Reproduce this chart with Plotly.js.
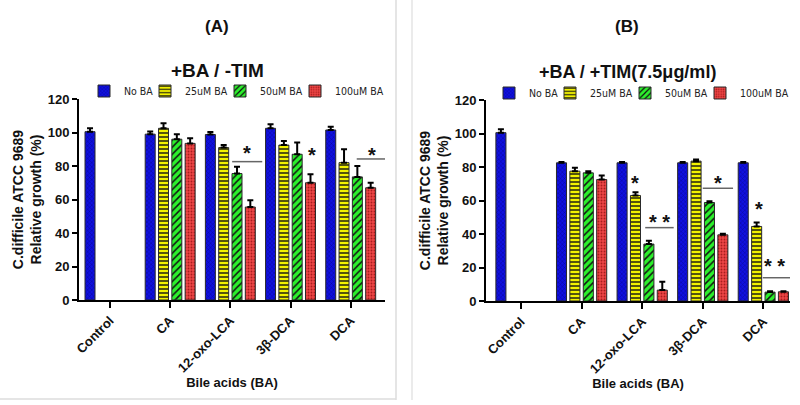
<!DOCTYPE html>
<html>
<head>
<meta charset="utf-8">
<script src="https://cdn.plot.ly/plotly-3.0.1.min.js"></script>
<style>html,body{margin:0;padding:0;background:#fff;}#chart{width:800px;height:405px;}</style>
</head>
<body>
<div id="chart"></div>
<script>
// ---- data ----
const categories = ["Control", "CA", "12-oxo-LCA", "3\u03b2-DCA", "DCA"];
const seriesNames = ["No BA", "25uM BA", "50uM BA", "100uM BA"];

// Panel A: +BA / -TIM
const aNoBA   = [100.5, 99.0, 98.8, 102.5, 101.5];
const a25     = [null, 102.5, 91.0, 92.5, 82.0];
const a50     = [null, 96.0, 75.5, 87.0, 73.5];
const a100    = [null, 93.5, 55.5, 70.0, 67.0];
const aNoBAErr = [2.0, 1.6, 1.5, 2.5, 2.0];
const a25Err   = [0, 3.0, 1.5, 2.5, 8.0];
const a50Err   = [0, 3.0, 4.0, 7.0, 6.5];
const a100Err  = [0, 3.0, 4.0, 5.0, 3.0];

// Panel B: +BA / +TIM(7.5µg/ml)
const bNoBA   = [100.5, 82.5, 82.5, 82.5, 82.5];
const b25     = [null, 77.5, 63.0, 83.5, 44.5];
const b50     = [null, 76.5, 34.0, 58.8, 5.3];
const b100    = [null, 72.5, 6.5, 39.5, 5.5];
const bNoBAErr = [2.0, 0.5, 0.5, 0.5, 0.5];
const b25Err   = [0, 2.0, 2.0, 1.0, 2.3];
const b50Err   = [0, 1.0, 2.0, 0.7, 0.5];
const b100Err  = [0, 2.5, 5.0, 0.7, 0.3];
const noMinus  = [0, 0, 0, 0, 0];

// significance marks: [category position, value, text]
const sigA = [[2.28, 90.7, "*"], [3.35, 89.6, "*"], [4.35, 89.6, "*"]];
const sigLinesA = [[2.03, 2.53, 82.6], [4.10, 4.60, 84.2]];
const sigB = [[1.88, 73.4, "*"], [2.28, 50.3, "* *"], [3.25, 73.6, "*"], [3.93, 57.9, "*"], [4.19, 23.9, "* *"]];
const sigLinesB = [[2.05, 2.52, 43.8], [3.00, 3.50, 67.3], [3.99, 4.50, 13.9]];

// ---- styles ----
const styles = [
  {color: "#1010e0", pattern: {shape: "x", fgcolor: "#06068a", size: 3, solidity: 0.25}, lw: 16},
  {color: "#f2f200", pattern: {shape: "-", fgcolor: "#111111", size: 4, solidity: 0.35}, lw: 30},
  {color: "#2cf02c", pattern: {shape: "/", fgcolor: "#111111", size: 5, solidity: 0.3}, lw: 30},
  {color: "#ee4646", pattern: {shape: ".", fgcolor: "#a81c1c", size: 3, solidity: 0.3}, lw: 54}
];

function mkTrace(i, y, err, xa, ya, leg) {
  return {
    type: "bar", x: categories, y: y, name: seriesNames[i],
    xaxis: xa, yaxis: ya, legend: leg, showlegend: true, legendwidth: styles[i].lw,
    marker: {color: styles[i].color, line: {color: "#2a2a2a", width: 1},
             pattern: Object.assign({bgcolor: styles[i].color}, styles[i].pattern)},
    error_y: {type: "data", symmetric: false, array: err, arrayminus: noMinus,
              color: "#000", thickness: 2, width: 3},
    hoverinfo: "x+y+name"
  };
}

const data = [
  mkTrace(0, aNoBA, aNoBAErr, "x", "y", "legend"),
  mkTrace(1, a25, a25Err, "x", "y", "legend"),
  mkTrace(2, a50, a50Err, "x", "y", "legend"),
  mkTrace(3, a100, a100Err, "x", "y", "legend"),
  mkTrace(0, bNoBA, bNoBAErr, "x2", "y2", "legend2"),
  mkTrace(1, b25, b25Err, "x2", "y2", "legend2"),
  mkTrace(2, b50, b50Err, "x2", "y2", "legend2"),
  mkTrace(3, b100, b100Err, "x2", "y2", "legend2")
];

const boldFont = "Liberation Sans, Arial, sans-serif";
const tickFont = {family: boldFont, size: 13, color: "#111", weight: "bold"};

function xAxis(domain, range, anchor) {
  return {
    domain: domain, range: range, anchor: anchor, type: "category",
    showline: true, linecolor: "#000", linewidth: 2, mirror: false,
    ticks: "outside", ticklen: 6, tickwidth: 2, tickcolor: "#000",
    tickangle: -45, tickfont: tickFont, showgrid: false, zeroline: false,
    title: {text: "Bile acids (BA)", font: {family: boldFont, size: 13, color: "#111", weight: "bold"}, standoff: 2},
    fixedrange: true
  };
}
function yAxis(domain, anchor) {
  return {
    domain: domain, range: [0, 120], anchor: anchor, dtick: 20, tick0: 0,
    showline: true, linecolor: "#000", linewidth: 2,
    ticks: "outside", ticklen: 5, tickwidth: 2, tickcolor: "#000",
    tickfont: tickFont, showgrid: false, zeroline: false,
    title: {text: "C.difficile ATCC 9689<br>Relative growth (%)", font: {family: boldFont, size: 14, color: "#111", weight: "bold"}, standoff: 3},
    fixedrange: true
  };
}

function pAnn(text, px, py, size) {
  return {text: text, x: px/800, y: 1 - py/405, xref: "paper", yref: "paper", xanchor: "center", yanchor: "middle",
          showarrow: false, font: {family: boldFont, size: size, color: "#111", weight: "bold"}};
}
const annotations = [
  pAnn("(A)", 217, 26, 17),
  pAnn("(B)", 627, 26, 17),
  pAnn("+BA / -TIM", 217, 70, 19),
  pAnn("+BA / +TIM(7.5\u03bcg/ml)", 627, 72, 18)
];
const starFont = {family: boldFont, size: 20, color: "#111", weight: "bold"};
sigA.forEach(s => annotations.push({text: s[2], x: s[0], y: s[1], xref: "x", yref: "y", xanchor: "center", yanchor: "middle", showarrow: false, font: starFont, yshift: -5}));
sigB.forEach(s => annotations.push({text: s[2], x: s[0], y: s[1], xref: "x2", yref: "y2", xanchor: "center", yanchor: "middle", showarrow: false, font: starFont, yshift: -5}));

const shapes = [];
sigLinesA.forEach(l => shapes.push({type: "line", xref: "x", yref: "y", x0: l[0], x1: l[1], y0: l[2], y1: l[2], line: {color: "#666", width: 1.5}}));
sigLinesB.forEach(l => shapes.push({type: "line", xref: "x2", yref: "y2", x0: l[0], x1: l[1], y0: l[2], y1: l[2], line: {color: "#666", width: 1.5}}));
// panel frames
shapes.push({type: "line", xref: "paper", yref: "paper", x0: 396/800, x1: 396/800, y0: 1 - 400/405, y1: 1, line: {color: "#dcdcdc", width: 1.5}});
shapes.push({type: "line", xref: "paper", yref: "paper", x0: 0, x1: 396/800, y0: 1 - 399/405, y1: 1 - 399/405, line: {color: "#dcdcdc", width: 1.5}});
shapes.push({type: "line", xref: "paper", yref: "paper", x0: 412/800, x1: 412/800, y0: 1 - 400/405, y1: 1, line: {color: "#e4e4e4", width: 1.5}});

const legendFont = {family: "DejaVu Sans Condensed, DejaVu Sans, sans-serif", size: 10.5, color: "#222"};

const layout = {
  width: 800, height: 405,
  margin: {l: 0, r: 0, t: 0, b: 0, autoexpand: false},
  paper_bgcolor: "#fff", plot_bgcolor: "#fff",
  barmode: "group", bargap: 0.115, bargroupgap: 0.25,
  xaxis: xAxis([79/800, 385/800], [-0.515, 4.57], "y"),
  yaxis: yAxis([1 - 300/405, 1 - 99/405], "x"),
  xaxis2: xAxis([486/800, 790/800], [-0.578, 4.44], "y2"),
  yaxis2: yAxis([1 - 301/405, 1 - 100/405], "x2"),
  legend: {orientation: "h", x: 84/800, xanchor: "left", y: 1 - 91/405, yanchor: "middle", font: legendFont,
           entrywidthmode: "pixels", bgcolor: "rgba(0,0,0,0)", itemclick: false, itemdoubleclick: false},
  legend2: {orientation: "h", x: 489/800, xanchor: "left", y: 1 - 93/405, yanchor: "middle", font: legendFont,
            entrywidthmode: "pixels", bgcolor: "rgba(0,0,0,0)", itemclick: false, itemdoubleclick: false},
  annotations: annotations,
  shapes: shapes,
  showlegend: true
};

Plotly.newPlot("chart", data, layout, {displayModeBar: false, staticPlot: true});
</script>
</body>
</html>
